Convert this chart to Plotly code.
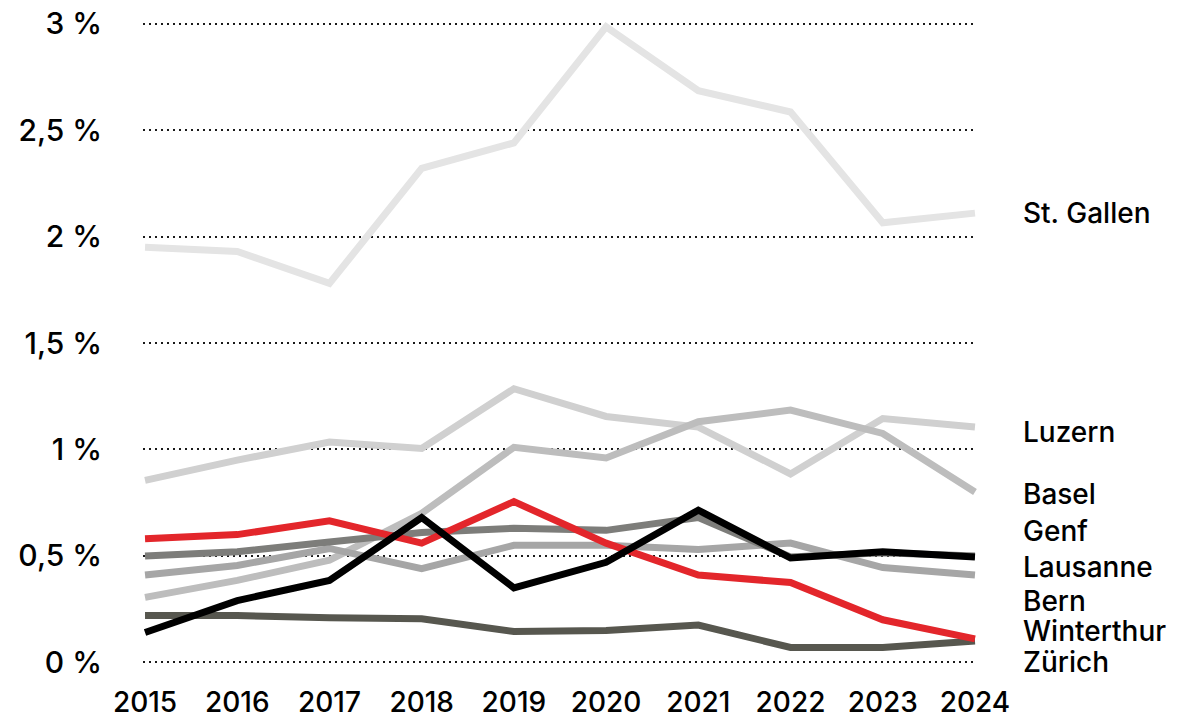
#!/usr/bin/env python3
"""Line chart of yearly shares per city, grey lines with one red and one black highlight."""
import plotly.graph_objects as go

years = [2015, 2016, 2017, 2018, 2019, 2020, 2021, 2022, 2023, 2024]

st_gallen = [1.95, 1.93, 1.78, 2.32, 2.44, 2.985, 2.685, 2.585, 2.065, 2.11]
luzern = [0.855, 0.95, 1.035, 1.005, 1.285, 1.155, 1.105, 0.885, 1.145, 1.105]
basel = [0.305, 0.385, 0.48, 0.70, 1.01, 0.96, 1.13, 1.185, 1.075, 0.80]
bern = [0.41, 0.455, 0.535, 0.44, 0.55, 0.55, 0.53, 0.56, 0.445, 0.41]
lausanne = [0.50, 0.52, 0.565, 0.61, 0.63, 0.62, 0.68, 0.495, 0.515, 0.50]
zuerich = [0.22, 0.22, 0.21, 0.205, 0.145, 0.15, 0.175, 0.07, 0.07, 0.10]
winterthur = [0.58, 0.60, 0.665, 0.56, 0.755, 0.56, 0.41, 0.375, 0.20, 0.11]
genf = [0.14, 0.29, 0.385, 0.68, 0.35, 0.47, 0.715, 0.49, 0.52, 0.495]

y_ticks = [0, 0.5, 1, 1.5, 2, 2.5, 3]
y_tick_text = ["0 %", "0,5 %", "1 %", "1,5 %", "2 %", "2,5 %", "3 %"]

# drawing order: lightest first, highlights last
series = [
    ("St. Gallen", st_gallen, "#e4e4e4"),
    ("Luzern", luzern, "#d0d0d0"),
    ("Basel", basel, "#bdbdbd"),
    ("Bern", bern, "#a6a6a6"),
    ("Lausanne", lausanne, "#7d7d7a"),
    ("Zürich", zuerich, "#57574f"),
    ("Winterthur", winterthur, "#e3262b"),
    ("Genf", genf, "#000000"),
]

# label placement (data units), spread out so the names do not collide
label_y = {
    "St. Gallen": 2.11,
    "Luzern": 1.08,
    "Basel": 0.79,
    "Genf": 0.615,
    "Lausanne": 0.45,
    "Bern": 0.29,
    "Winterthur": 0.145,
    "Zürich": 0.0,
}

FONT = "Inter, Liberation Sans, Arial, sans-serif"

fig = go.Figure()
for name, values, color in series:
    fig.add_trace(
        go.Scatter(
            x=years,
            y=values,
            name=name,
            mode="lines",
            line=dict(color=color, width=7),
            hovertemplate=name + " %{x}: %{y:.2f} %<extra></extra>",
        )
    )

for name, _, _ in series:
    fig.add_annotation(
        x=1.053,
        xref="paper",
        y=label_y[name],
        yref="y",
        text=name,
        showarrow=False,
        xanchor="left",
        yanchor="middle",
        font=dict(family=FONT, size=28, weight=500, color="#000000"),
    )

# page body adds 8px around the figure, margins are shifted to compensate
fig.update_layout(
    width=1200,
    height=727,
    margin=dict(l=135, r=231, t=5, b=62, pad=0),
    plot_bgcolor="#ffffff",
    paper_bgcolor="#ffffff",
    showlegend=False,
    font=dict(family=FONT, size=30, color="#000000"),
)

fig.update_xaxes(
    range=[2014.978, 2024.022],
    tickmode="array",
    tickvals=years,
    ticktext=[str(y) for y in years],
    showgrid=False,
    zeroline=False,
    showline=False,
    ticks="",
    automargin=False,
    ticklabelstandoff=10,
    ticklabeloverflow="allow",
    tickfont=dict(family=FONT, size=28, weight=500, color="#000000"),
)

fig.update_yaxes(
    range=[-0.05, 3.05],
    tickmode="array",
    tickvals=y_ticks,
    ticktext=y_tick_text,
    showgrid=True,
    gridcolor="#1a1a1a",
    gridwidth=2,
    griddash="2px,4px",
    zeroline=False,
    showline=False,
    ticks="",
    automargin=False,
    ticklabelstandoff=40,
    ticklabeloverflow="allow",
    layer="above traces",
    tickfont=dict(family=FONT, size=30, weight=500, color="#000000"),
)

fig.write_html("out.html")
